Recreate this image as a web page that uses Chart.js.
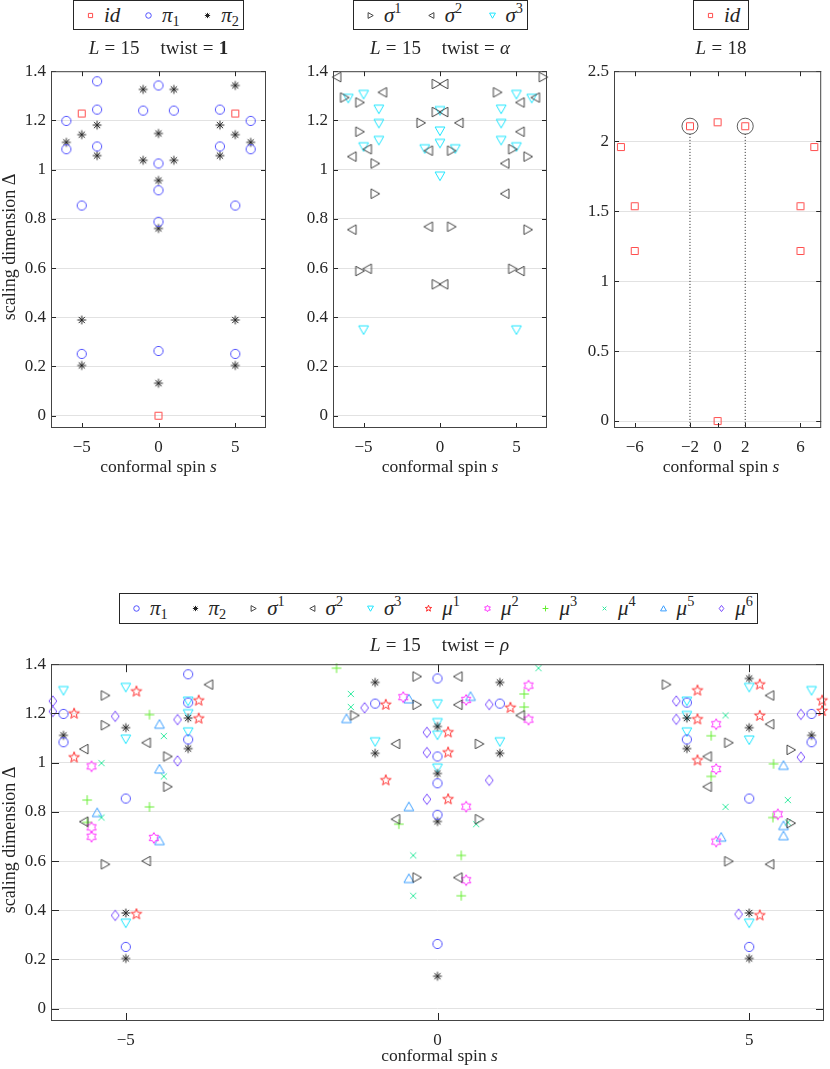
<!DOCTYPE html>
<html>
<head>
<meta charset="utf-8">
<script src="https://cdn.jsdelivr.net/npm/chart.js@4.4.1/dist/chart.umd.min.js"></script>
<style>
  body { margin: 0; background: #fff; width: 830px; height: 1069px; position: relative; overflow: hidden;
         font-family: 'Liberation Serif', serif; color: #262626; }
  canvas.plot { position: absolute; }
  .lg { position: absolute; border: 1px solid #262626; box-sizing: border-box; background: #fff;
        display: flex; align-items: center; justify-content: space-between; font-size: 21px; }
  .lg .it { display: flex; align-items: center; white-space: nowrap; }
  .lg canvas { margin-right: 8px; }
  .lg i, .lg .m { font-style: italic; }
  sub, sup { font-style: normal; font-size: 68%; line-height: 0; }
  sub { vertical-align: -0.3em; }
  sup { vertical-align: 0.6em; }
  .tt { position: absolute; text-align: center; font-size: 19px; line-height: 20px; white-space: nowrap; }
  .tt .eq { margin: 0 0.28em; }
  .tt .q { display: inline-block; width: 1.1em; }
  .xt { position: absolute; text-align: center; font-size: 17.5px; line-height: 20px; white-space: nowrap; }
  .yt { position: absolute; font-size: 18px; line-height: 20px; white-space: nowrap;
        transform: translate(-50%, -50%) rotate(-90deg); }
</style>
</head>
<body>
<script>
// ─── DATA ─────────────────────────────────────────────────
// L = 15, twist = 1
const idS1 = [-5, 5, 0];
const idD1 = [1.228, 1.228, 0];
const pi1S = [-6, -6, -5, -5, -4, -4, -4, -1, 0, 0, 0, 0, 0, 1, 4, 4, 5, 5, 6, 6];
const pi1D = [1.198, 1.083, 0.854, 0.251, 1.359, 1.244, 1.094, 1.240, 1.342, 1.025, 0.916, 0.788, 0.263, 1.240, 1.244, 1.094, 0.854, 0.251, 1.198, 1.083];
const pi2S = [-6, -5, -5, -5, -4, -4, -1, -1, 0, 0, 0, 0, 1, 1, 4, 4, 5, 5, 5, 5, 6];
const pi2D = [1.111, 1.142, 0.389, 0.204, 1.181, 1.057, 1.326, 1.038, 1.147, 0.956, 0.761, 0.132, 1.326, 1.038, 1.181, 1.057, 1.342, 1.142, 0.389, 0.204, 1.111];

// L = 15, twist = alpha
const sig1Sa = [-6.25, -5.25, -5.25, -5.25, -4.25, -4.25, -1.25, -0.25, -0.25, -0.25, 0.75, 0.75, 3.75, 4.75, 4.75, 5.75, 5.75, 6.75];
const sig1Da = [1.293, 1.273, 1.154, 0.588, 1.025, 0.902, 1.190, 1.348, 1.234, 0.534, 1.077, 0.768, 1.314, 1.083, 0.597, 1.053, 0.756, 1.376];
const sig2Sa = [-6.75, -5.75, -5.75, -4.75, -4.75, -3.75, -0.75, -0.75, 0.25, 0.25, 0.25, 1.25, 4.25, 4.25, 5.25, 5.25, 5.25, 6.25];
const sig2Da = [1.376, 1.053, 0.756, 1.083, 0.597, 1.314, 1.077, 0.768, 1.348, 1.234, 0.534, 1.190, 1.025, 0.902, 1.273, 1.154, 0.588, 1.293];
const sig3Sa = [-6, -5, -5, -5, -4, -4, -4, -1, 0, 0, 0, 0, 1, 4, 4, 4, 5, 5, 5, 6];
const sig3Da = [1.290, 1.306, 1.093, 0.349, 1.246, 1.188, 1.119, 1.085, 1.240, 1.157, 1.107, 0.974, 1.085, 1.246, 1.188, 1.119, 1.306, 1.093, 0.349, 1.290];

// L = 18, identity sector
const idS18 = [-7, -6, -6, -2, 0, 2, 6, 6, 7, 0];
const idD18 = [1.958, 1.535, 1.215, 2.107, 2.135, 2.107, 1.535, 1.215, 1.958, 0];
const markS18 = [-2, 2];
const markD18 = [2.107, 2.107];

// L = 15, twist = rho
const sig1Sr = [-5.33, -5.33, -5.33, -4.33, -4.33, -1.33, -0.33, -0.33, -0.33, 0.67, 0.67, 3.67, 4.67, 4.67, 5.67, 5.67];
const sig1Dr = [1.273, 1.152, 0.587, 1.025, 0.902, 1.192, 1.350, 1.235, 0.533, 1.076, 0.770, 1.317, 1.081, 0.599, 1.052, 0.754];
const sig2Sr = [-5.67, -5.67, -4.67, -4.67, -3.67, -0.67, -0.67, 0.33, 0.33, 0.33, 1.33, 4.33, 4.33, 5.33, 5.33, 5.33];
const sig2Dr = [1.055, 0.760, 1.081, 0.600, 1.317, 1.076, 0.770, 1.350, 1.235, 0.533, 1.192, 1.025, 0.902, 1.273, 1.156, 0.587];
const sig3Sr = [-6, -5, -5, -5, -4, -4, -4, -1, 0, 0, 0, 0, 1, 4, 4, 4, 5, 5, 5, 6];
const sig3Dr = [1.293, 1.306, 1.096, 0.348, 1.250, 1.199, 1.125, 1.085, 1.239, 1.163, 1.112, 0.978, 1.085, 1.250, 1.192, 1.125, 1.306, 1.092, 0.348, 1.293];
const mu1S = [-5.83, -5.83, -4.83, -4.83, -3.83, -3.83, -0.83, -0.83, 0.17, 0.17, 0.17, 1.17, 4.17, 4.17, 4.17, 5.17, 5.17, 5.17, 6.17, 6.17];
const mu1D = [1.199, 1.021, 1.289, 0.384, 1.252, 1.179, 1.235, 0.928, 1.123, 1.041, 0.851, 1.223, 1.293, 1.176, 1.009, 1.317, 1.190, 0.379, 1.252, 1.210];
const mu2S = [-5.55, -5.55, -5.55, -4.55, -0.55, 0.46, 0.46, 0.46, 1.46, 1.46, 4.47, 4.47, 4.47, 5.46];
const mu2D = [0.985, 0.737, 0.699, 0.694, 1.266, 1.255, 0.821, 0.522, 1.313, 1.175, 1.156, 0.974, 0.679, 0.790];
const mu3S = [-5.62, -5.62, -4.62, -4.62, -1.62, -0.62, 0.38, 0.38, 1.39, 1.39, 4.39, 4.39, 5.39, 5.38];
const mu3D = [0.848, 0.757, 1.195, 0.820, 1.384, 0.750, 0.623, 0.459, 1.279, 1.226, 1.109, 0.944, 0.995, 0.777];
const mu4S = [-5.39, -5.39, -4.39, -4.39, -1.39, -1.39, -0.39, -0.39, 0.62, 1.62, 4.62, 4.62, 5.62, 5.62];
const mu4D = [0.998, 0.777, 1.108, 0.944, 1.279, 1.226, 0.623, 0.459, 0.750, 1.384, 1.192, 0.820, 0.848, 0.757];
const mu5S = [-5.46, -4.46, -4.46, -4.46, -1.46, -0.46, -0.46, -0.46, 0.53, 4.55, 5.55, 5.55, 5.55];
const mu5D = [0.797, 1.156, 0.974, 0.683, 1.179, 1.259, 0.821, 0.529, 1.269, 0.697, 0.989, 0.744, 0.703];
const mu6S = [-6.17, -6.17, -5.17, -5.17, -4.17, -4.17, -1.17, -0.17, -0.17, -0.17, 0.83, 0.83, 3.83, 3.83, 4.83, 5.83, 5.83];
const mu6D = [1.250, 1.208, 1.188, 0.379, 1.175, 1.007, 1.223, 1.123, 1.041, 0.851, 1.236, 0.928, 1.250, 1.176, 0.384, 1.196, 1.022];

// tick labels
const xTicks15 = [-5, 0, 5];
const xTicks18 = [-6, -2, 0, 2, 6];
const yTicks15 = [0, 0.2, 0.4, 0.6, 0.8, 1, 1.2, 1.4];
const yTicks18 = [0, 0.5, 1, 1.5, 2, 2.5];

// ─── STYLE ────────────────────────────────────────────────
const INK = '#262626';
const C = {
    id: '#ff4d4d', pi1: '#5050ff', pi2: '#222222', sig: '#444444', sig3: '#1ee6ff',
    mu1: '#ff3030', mu2: '#ff33ff', mu3: '#66ee33', mu4: '#33eaa0', mu5: '#3a9eff', mu6: '#7a4dff',
};

Chart.defaults.font.family = "'Liberation Serif', serif";
Chart.defaults.color = INK;

function drawShape(g, shape, cx, cy, k) {
    const poly = (pts) => {
        pts.forEach(([dx, dy], i) => i ? g.lineTo(cx + dx * k, cy + dy * k) : g.moveTo(cx + dx * k, cy + dy * k));
        g.closePath();
    };
    const star = (n, ro, ri) => {
        const p = [];
        for (let i = 0; i < 2 * n; i++) {
            const a = -Math.PI / 2 + i * Math.PI / n, r = i % 2 ? ri : ro;
            p.push([r * Math.cos(a), r * Math.sin(a)]);
        }
        poly(p);
    };
    const spokes = (n, r, a0) => {
        for (let i = 0; i < n; i++) {
            const a = a0 + i * Math.PI / n;
            g.moveTo(cx - r * k * Math.cos(a), cy - r * k * Math.sin(a));
            g.lineTo(cx + r * k * Math.cos(a), cy + r * k * Math.sin(a));
        }
    };
    g.beginPath();
    switch (shape) {
        case 'square': g.rect(cx - 3.5 * k, cy - 3.5 * k, 7 * k, 7 * k); break;
        case 'circle': g.arc(cx, cy, 4.6 * k, 0, 2 * Math.PI); break;
        case 'asterisk': spokes(4, 4.4, 0); break;
        case 'plus': spokes(2, 4.8, 0); break;
        case 'x': spokes(2, 4.4, Math.PI / 4); break;
        case 'right': poly([[-4, -4.8], [4.6, 0], [-4, 4.8]]); break;
        case 'left': poly([[4, -4.8], [-4.6, 0], [4, 4.8]]); break;
        case 'down': poly([[-4.9, -4], [4.9, -4], [0, 4.6]]); break;
        case 'up': poly([[-4.9, 4], [4.9, 4], [0, -4.6]]); break;
        case 'diamond': poly([[0, -5.2], [3.9, 0], [0, 5.2], [-3.9, 0]]); break;
        case 'pentagram': star(5, 5.6, 2.3); break;
        case 'hexagram': star(6, 5.4, 3.1); break;
    }
    g.stroke();
}

function markerImage(shape, color, k) {
    const n = Math.ceil(14 * k) + 2;
    const c = document.createElement('canvas');
    c.width = c.height = n;
    const g = c.getContext('2d');
    g.strokeStyle = color;
    g.lineWidth = 1;
    drawShape(g, shape, n / 2, n / 2, k);
    return c;
}

const fmtTick = (v) => (v < 0 ? '\u2212' : '') + Math.abs(v);
const pts = (S, D) => S.map((s, i) => ({ x: s, y: D[i] }));

function series(S, D, shape, color) {
    return { data: pts(S, D), pointStyle: markerImage(shape, color, 1), pointRadius: 5, showLine: false, clip: false };
}

// box frame with inward ticks on all four sides
const framePlugin = {
    id: 'frame',
    afterDatasetsDraw(chart, args, opts) {
        const { ctx, chartArea: a, scales: { x, y } } = chart;
        const L = opts.tickLen || 5;
        ctx.save();
        ctx.strokeStyle = INK;
        ctx.lineWidth = 1;
        ctx.beginPath();
        x.ticks.forEach(t => {
            const px = Math.round(x.getPixelForValue(t.value)) + 0.5;
            ctx.moveTo(px, a.bottom); ctx.lineTo(px, a.bottom - L);
            ctx.moveTo(px, a.top); ctx.lineTo(px, a.top + L);
        });
        y.ticks.forEach(t => {
            const py = Math.round(y.getPixelForValue(t.value)) + 0.5;
            ctx.moveTo(a.left, py); ctx.lineTo(a.left + L, py);
            ctx.moveTo(a.right, py); ctx.lineTo(a.right - L, py);
        });
        ctx.stroke();
        ctx.strokeStyle = '#444';
        ctx.strokeRect(a.left + 0.5, a.top + 0.5, a.right - a.left - 1, a.bottom - a.top - 1);
        ctx.restore();
    }
};

function makePanel(box, xRange, yRange, xTicks, yTicks, tickLen, datasets) {
    const padTop = 10, padRight = box.padRight, xAxisH = 32;
    const cv = document.createElement('canvas');
    cv.className = 'plot';
    cv.width = box.right - box.cx + padRight;
    cv.height = box.bottom - box.top + padTop + xAxisH;
    cv.style.left = box.cx + 'px';
    cv.style.top = (box.top - padTop) + 'px';
    document.body.appendChild(cv);

    new Chart(cv, {
        type: 'scatter',
        data: { datasets },
        plugins: [framePlugin],
        options: {
            responsive: false, animation: false, events: [],
            layout: { padding: { top: padTop, right: padRight, left: 0, bottom: 0 } },
            plugins: { legend: { display: false }, tooltip: { enabled: false }, frame: { tickLen } },
            scales: {
                x: {
                    type: 'linear', min: xRange[0], max: xRange[1],
                    grid: { display: false }, border: { display: false },
                    afterBuildTicks: s => { s.ticks = xTicks.map(v => ({ value: v })); },
                    afterFit: s => { s.height = xAxisH; },
                    ticks: { padding: 1, autoSkip: false, maxRotation: 0, font: { size: 17 }, color: INK, callback: fmtTick },
                },
                y: {
                    type: 'linear', min: yRange[0], max: yRange[1],
                    grid: { color: '#e2e2e2', drawTicks: false }, border: { display: false },
                    afterBuildTicks: s => { s.ticks = yTicks.map(v => ({ value: v })); },
                    afterFit: s => { s.width = box.left - box.cx; },
                    ticks: { padding: 5, font: { size: 17 }, color: INK, callback: fmtTick },
                },
            },
        },
    });
}

function legend(left, top, width, height, items) {
    const el = document.createElement('div');
    el.className = 'lg';
    Object.assign(el.style, { left: left + 'px', top: top + 'px', width: width + 'px', height: height + 'px',
        paddingLeft: '11px', paddingRight: '4px' });
    items.forEach(([shape, color, html]) => {
        const it = document.createElement('span');
        it.className = 'it';
        it.appendChild(markerImage(shape, color, 0.6));
        const t = document.createElement('span');
        t.innerHTML = html;
        it.appendChild(t);
        el.appendChild(it);
    });
    document.body.appendChild(el);
}

function label(cls, html, left, top, width) {
    const el = document.createElement('div');
    el.className = cls;
    el.innerHTML = html;
    el.style.left = left + 'px';
    el.style.top = top + 'px';
    if (width) el.style.width = width + 'px';
    document.body.appendChild(el);
}

// ─── PANELS ───────────────────────────────────────────────
const box1 = { cx: 16, left: 51, top: 66, right: 266, bottom: 428, padRight: 10 };
const box2 = { cx: 298, left: 333, top: 66, right: 547, bottom: 428, padRight: 10 };
const box3 = { cx: 579, left: 614, top: 66, right: 828, bottom: 428, padRight: 2 };
const box4 = { cx: 16, left: 51, top: 659, right: 828, bottom: 1021, padRight: 2 };

makePanel(box1, [-7, 7], [-0.05, 1.4], xTicks15, yTicks15, 5, [
    series(idS1, idD1, 'square', C.id),
    series(pi1S, pi1D, 'circle', C.pi1),
    series(pi2S, pi2D, 'asterisk', C.pi2),
]);

makePanel(box2, [-7, 7], [-0.05, 1.4], xTicks15, yTicks15, 5, [
    series(sig1Sa, sig1Da, 'right', C.sig),
    series(sig2Sa, sig2Da, 'left', C.sig),
    series(sig3Sa, sig3Da, 'down', C.sig3),
]);

const y18min = -0.05;
makePanel(box3, [-7.5, 7.5], [y18min, 2.5], xTicks18, yTicks18, 5, [
    series(idS18, idD18, 'square', C.id),
    { data: pts(markS18, markD18), pointStyle: 'circle', pointRadius: 8, borderColor: '#333',
      borderWidth: 0.8, backgroundColor: 'rgba(0,0,0,0)', showLine: false, clip: false },
    ...markS18.map((s, i) => ({
        type: 'line', data: [{ x: s, y: markD18[i] - 0.055 }, { x: s, y: y18min }],
        borderColor: '#222', borderWidth: 1, borderDash: [1, 2], pointRadius: 0, showLine: true,
    })),
]);

makePanel(box4, [-6.2, 6.2], [-0.05, 1.4], xTicks15, yTicks15, 8, [
    series(pi1S, pi1D, 'circle', C.pi1),
    series(pi2S, pi2D, 'asterisk', C.pi2),
    series(sig1Sr, sig1Dr, 'right', C.sig),
    series(sig2Sr, sig2Dr, 'left', C.sig),
    series(sig3Sr, sig3Dr, 'down', C.sig3),
    series(mu1S, mu1D, 'pentagram', C.mu1),
    series(mu2S, mu2D, 'hexagram', C.mu2),
    series(mu3S, mu3D, 'plus', C.mu3),
    series(mu4S, mu4D, 'x', C.mu4),
    series(mu5S, mu5D, 'up', C.mu5),
    series(mu6S, mu6D, 'diamond', C.mu6),
]);

// ─── LEGENDS & LABELS ─────────────────────────────────────
legend(73, 0, 171, 30, [
    ['square', C.id, '<i>id</i>'],
    ['circle', C.pi1, '<span class="m">π</span><sub>1</sub>'],
    ['asterisk', C.pi2, '<span class="m">π</span><sub>2</sub>'],
]);
legend(353, 0, 175, 30, [
    ['right', C.sig, '<span class="m">σ</span><sup>1</sup>'],
    ['left', C.sig, '<span class="m">σ</span><sup>2</sup>'],
    ['down', C.sig3, '<span class="m">σ</span><sup>3</sup>'],
]);
legend(693, 0, 56, 30, [
    ['square', C.id, '<i>id</i>'],
]);
legend(119, 593, 639, 31, [
    ['circle', C.pi1, '<span class="m">π</span><sub>1</sub>'],
    ['asterisk', C.pi2, '<span class="m">π</span><sub>2</sub>'],
    ['right', C.sig, '<span class="m">σ</span><sup>1</sup>'],
    ['left', C.sig, '<span class="m">σ</span><sup>2</sup>'],
    ['down', C.sig3, '<span class="m">σ</span><sup>3</sup>'],
    ['pentagram', C.mu1, '<span class="m">μ</span><sup>1</sup>'],
    ['hexagram', C.mu2, '<span class="m">μ</span><sup>2</sup>'],
    ['plus', C.mu3, '<span class="m">μ</span><sup>3</sup>'],
    ['x', C.mu4, '<span class="m">μ</span><sup>4</sup>'],
    ['up', C.mu5, '<span class="m">μ</span><sup>5</sup>'],
    ['diamond', C.mu6, '<span class="m">μ</span><sup>6</sup>'],
]);

const eq = '<span class="eq">=</span>';
label('tt', `<i>L</i>${eq}15<span class="q"></span>twist${eq}<b>1</b>`, box1.left, 38, box1.right - box1.left);
label('tt', `<i>L</i>${eq}15<span class="q"></span>twist${eq}<i>α</i>`, box2.left, 38, box2.right - box2.left);
label('tt', `<i>L</i>${eq}18`, box3.left, 38, box3.right - box3.left);
label('tt', `<i>L</i>${eq}15<span class="q"></span>twist${eq}<i>ρ</i>`, box4.left, 635, box4.right - box4.left);

[box1, box2, box3].forEach(b => label('xt', 'conformal spin <i>s</i>', b.left, 456, b.right - b.left));
label('xt', 'conformal spin <i>s</i>', box4.left, 1045, box4.right - box4.left);

label('yt', 'scaling dimension Δ', 9, 247);
label('yt', 'scaling dimension Δ', 9, 840);
</script>
</body>
</html>
